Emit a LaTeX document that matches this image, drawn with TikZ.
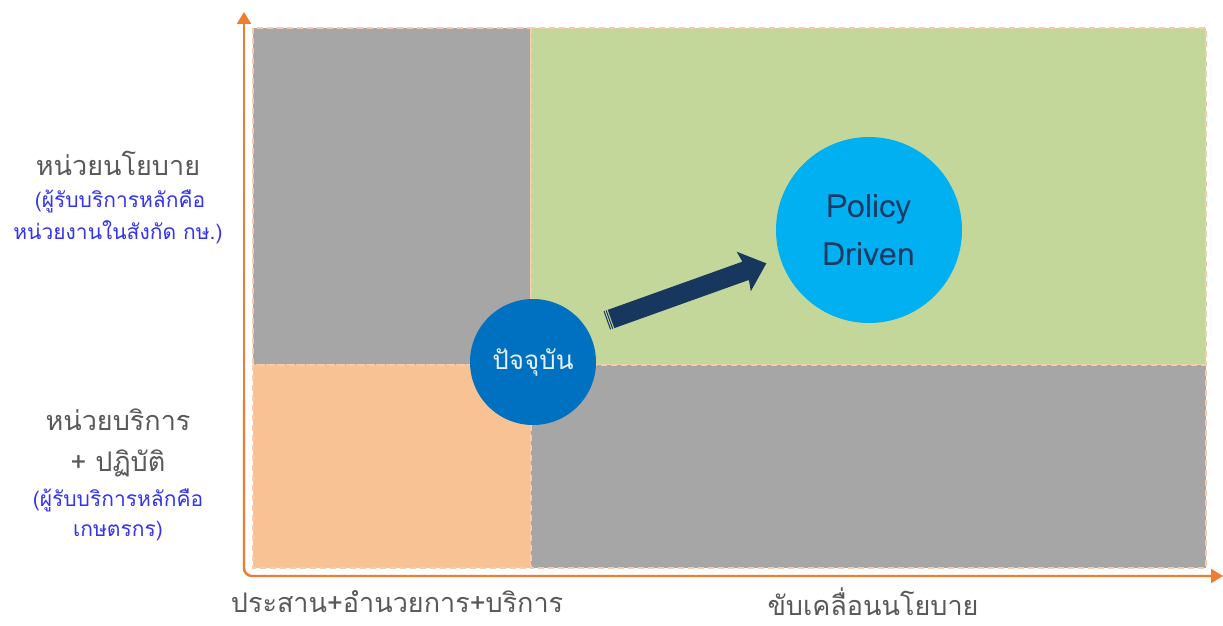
\documentclass[tikz,border=0pt]{standalone}
\usepackage{fontspec}
\newfontfamily\thai[Script=Thai]{Loma}
\usetikzlibrary{arrows.meta}
\definecolor{gq}{HTML}{A6A6A6}
\definecolor{grn}{HTML}{C4D79B}
\definecolor{org}{HTML}{F8C295}
\definecolor{dsh}{HTML}{F8CBAD}
\definecolor{axc}{HTML}{ED7D31}
\definecolor{c1}{HTML}{0070C0}
\definecolor{c2}{HTML}{00B0F0}
\definecolor{arr}{HTML}{17375E}
\definecolor{gtx}{HTML}{595959}
\definecolor{btx}{HTML}{3333F0}
\definecolor{ptx}{HTML}{1F3864}
\begin{document}
\begin{tikzpicture}[x=1pt,y=-1pt,
  quad/.style={draw=dsh,dash pattern=on 6pt off 4pt,line width=1.6pt},
  axis/.style={draw=axc,line width=2.4pt},
  gl/.style={text=gtx,font=\thai\fontsize{27}{30}\selectfont,inner sep=0pt},
  bl/.style={text=btx,font=\thai\fontsize{21}{30}\selectfont,inner sep=0pt}]
\useasboundingbox (0,0) rectangle (1223,626);
\fill[white] (0,0) rectangle (1223,626);
% quadrants
\path[quad,fill=gq] (253,28) rectangle (531,365);
\path[quad,fill=grn] (531,28) rectangle (1206,365);
\path[quad,fill=org] (253,365) rectangle (531,568);
\path[quad,fill=gq] (531,365) rectangle (1206,568);
% axes
\coordinate (ytop) at (244,12);
\coordinate (xend) at (1223,576);
\draw[axis,-{Triangle[width=14pt,length=12pt]},rounded corners=8pt] (244,400) |- (xend);
\draw[axis,-{Triangle[width=14pt,length=12pt]}] (244,400) -- (ytop);
% circles
\node[circle,fill=c1,minimum size=126pt,inner sep=0pt,text=white!90!c1,font=\thai\fontsize{26}{30}\selectfont] (now) at (533,362) {ปัจจุบัน};
\node[circle,fill=c2,minimum size=186pt,inner sep=0pt,text=ptx,font=\thai\fontsize{32}{48}\selectfont,align=center] (pd) at (869,230) {Policy\\Driven};
% arrow
\begin{scope}[shift={(611,319)},rotate=19.7]
\fill[arr] (0,-9.7) -- (143,-9.7) -- (141,-21) -- (165,0) -- (141,21) -- (143,9.7) -- (0,9.7) -- cycle;
\fill[arr] (-2.2,-9.7) rectangle (-1.2,9.7);
\fill[arr] (-4.4,-9.7) rectangle (-3.4,9.7);
\end{scope}
% labels
\node[gl] (l1) at (118,163) {หน่วยนโยบาย};
\node[bl] (l2) at (120,201) {(ผู้รับบริการหลักคือ};
\node[bl] (l3) at (118,232) {หน่วยงานในสังกัด กษ.)};
\node[gl] (l4) at (118,420) {หน่วยบริการ};
\node[gl] (l5) at (118,463) {+ ปฏิบัติ};
\node[bl] (l6) at (118,500) {(ผู้รับบริการหลักคือ};
\node[bl] (l7) at (118,531) {เกษตรกร)};
\node[gl] (b1) at (397,602) {ประสาน+อำนวยการ+บริการ};
\node[gl] (b2) at (873,602) {ขับเคลื่อนนโยบาย};
\end{tikzpicture}
\end{document}
